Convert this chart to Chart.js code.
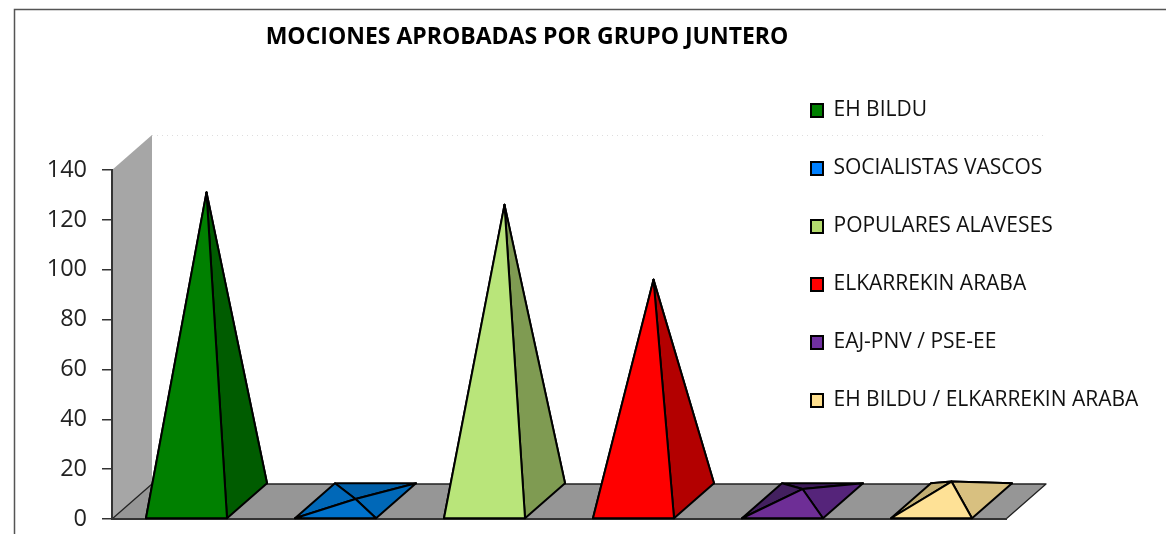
<!DOCTYPE html>
<html>
<head>
<meta charset="utf-8">
<script src="https://cdn.jsdelivr.net/npm/chart.js@4/dist/chart.umd.js"></script>
<style>html,body{margin:0;padding:0;background:#fff;overflow:hidden}canvas{display:block}</style>
</head>
<body>
<canvas id="c" width="1166" height="534"></canvas>
<script>
const chartTitle = 'MOCIONES APROBADAS POR GRUPO JUNTERO';
const categories = ['Mociones aprobadas'];
const seriesNames = ['EH BILDU','SOCIALISTAS VASCOS','POPULARES ALAVESES','ELKARREKIN ARABA','EAJ-PNV / PSE-EE','EH BILDU / ELKARREKIN ARABA'];
const seriesValues = [124, 1, 119, 89, 5, 8];
const legendColors = ['#008000','#0080FF','#B5DC6E','#FF0000','#7030A0','#FFE08F'];
const frontColors = ['#008000','#0072CC','#B9E57A','#FF0000','#6E2E96','#FEE196'];
const rightColors = ['#005C00','#0068B8','#7F9B52','#B30000','#55247A','#D8C080'];
const backColors  = ['#004A00','#005FA8','#6A8244','#900000','#3C1A58','#B8A568'];
const leftColors  = ['#006800','#0068B8','#8FAE5C','#C80000','#43205F','#C2AE73'];

const DEPTH_X = 40, DEPTH_Y = 35;
const INK = '#000', AXIS = '#333';

function poly(ctx, pts, fill, lw, stroke) {
  ctx.beginPath();
  pts.forEach((p, i) => i ? ctx.lineTo(p[0], p[1]) : ctx.moveTo(p[0], p[1]));
  ctx.closePath();
  if (fill) { ctx.fillStyle = fill; ctx.fill(); }
  if (lw) { ctx.lineWidth = lw; ctx.strokeStyle = stroke || INK; ctx.lineJoin = 'round'; ctx.stroke(); }
}

const scene = {
  id: 'scene',
  beforeLayout(chart) {
    const lg = chart.legend;
    if (lg && !lg._tall) {
      lg._tall = true;
      const u = lg.update;
      lg.update = function (w, h, m) { u.call(lg, w, 600, m); };
    }
  },
  afterLayout(chart) {
    const lg = chart.legend;
    lg.left = 774; lg.right = 1160; lg.top = 63; lg.bottom = 534;
    const tb = chart.titleBlock;
    tb.left = 227; tb.right = 827;
  },
  beforeDraw(chart) {
    const ctx = chart.ctx, a = chart.chartArea;
    ctx.save();
    // frame
    ctx.strokeStyle = '#555'; ctx.lineWidth = 1.5;
    ctx.beginPath(); ctx.moveTo(14.5, 534); ctx.lineTo(14.5, 9.5); ctx.lineTo(1166, 9.5); ctx.stroke();
    // side wall
    poly(ctx, [[a.left,a.top],[a.left+DEPTH_X,a.top-DEPTH_Y],[a.left+DEPTH_X,a.bottom-DEPTH_Y],[a.left,a.bottom]], '#A6A6A6');
    // floor
    poly(ctx, [[a.left,a.bottom],[a.right,a.bottom],[a.right+DEPTH_X,a.bottom-DEPTH_Y],[a.left+DEPTH_X,a.bottom-DEPTH_Y]], '#969696', 1.3, '#222');
    // dotted back wall top
    ctx.strokeStyle = '#DDD'; ctx.lineWidth = 1; ctx.setLineDash([1,4]);
    ctx.beginPath(); ctx.moveTo(a.left+DEPTH_X, a.top-DEPTH_Y+.5); ctx.lineTo(a.right+DEPTH_X, a.top-DEPTH_Y+.5); ctx.stroke();
    ctx.restore();
  },
  beforeDatasetDraw(chart, args) {
    const ctx = chart.ctx;
    const i = args.index;
    const el = chart.getDatasetMeta(i).data[0];
    const hw = el.width / 2;
    const fl = [el.x - hw, el.base], fr = [el.x + hw, el.base];
    const br = [fr[0] + DEPTH_X, fr[1] - DEPTH_Y], bl = [fl[0] + DEPTH_X, fl[1] - DEPTH_Y];
    const apex = [el.x + DEPTH_X / 2, el.y - DEPTH_Y / 2];
    const lw = 2;
    ctx.save();
    poly(ctx, [bl, br, apex], backColors[i], lw);
    poly(ctx, [fl, bl, apex], leftColors[i], lw);
    poly(ctx, [fr, br, apex], rightColors[i], lw);
    poly(ctx, [fl, fr, apex], frontColors[i], lw);
    ctx.restore();
    return false;
  }
};

new Chart(document.getElementById('c'), {
  type: 'bar',
  plugins: [scene],
  data: {
    labels: categories,
    datasets: seriesNames.map((name, i) => ({
      label: name,
      data: [seriesValues[i]],
      backgroundColor: legendColors[i],
      borderColor: '#000',
      borderWidth: 2,
      categoryPercentage: 1,
      barPercentage: 0.544
    }))
  },
  options: {
    responsive: false,
    animation: false,
    events: [],
    layout: { padding: { left: 0, top: 0, right: 160, bottom: 15 } },
    plugins: {
      tooltip: { enabled: false },
      title: {
        display: true,
        text: chartTitle,
        color: '#000',
        font: { family: '"Open Sans"', size: 23, weight: 'bold', lineHeight: 1.2 },
        padding: { top: 24, bottom: 118.4 }
      },
      legend: {
        display: true,
        position: 'chartArea',
        align: 'start',
        labels: {
          color: '#111',
          font: { family: '"Open Sans"', size: 21 },
          boxWidth: 12,
          boxHeight: 13,
          padding: 37
        }
      }
    },
    scales: {
      x: {
        afterFit(s) { s.height = 0; },
        grid: { display: false, drawTicks: false },
        border: { display: true, color: AXIS, width: 2 },
        ticks: { display: false }
      },
      y: {
        min: 0, max: 140,
        afterFit(s) { s.width = 112; s.paddingTop = 0; s.paddingBottom = 0; },
        grid: { drawOnChartArea: false, drawTicks: true, tickLength: 10, color: AXIS, lineWidth: 1.5 },
        border: { display: true, color: AXIS, width: 2 },
        ticks: {
          stepSize: 20,
          color: '#222',
          padding: 15,
          font: { family: '"Open Sans"', size: 23.5 }
        }
      }
    }
  }
});
</script>
</body>
</html>
